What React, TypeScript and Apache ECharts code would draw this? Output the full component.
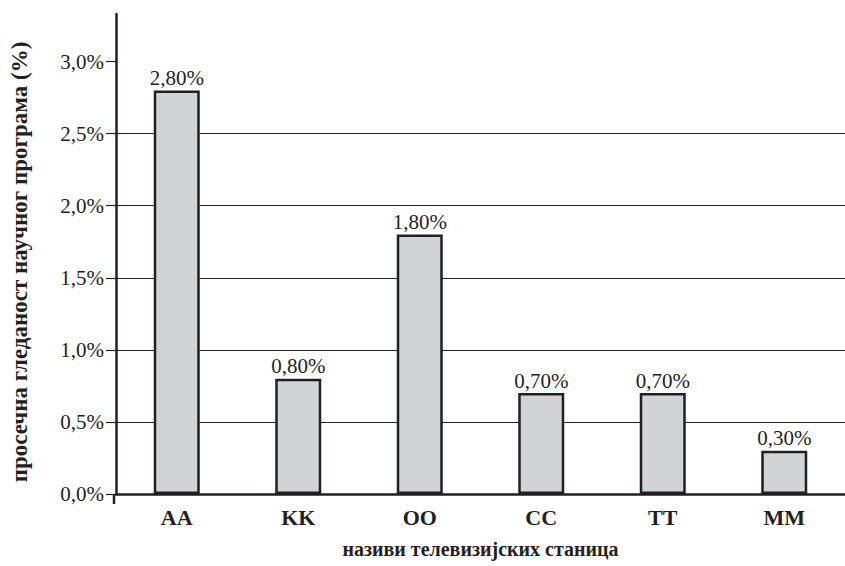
import React, { useEffect, useRef } from "react";
import * as echarts from "echarts";

const categories = ["AA", "KK", "OO", "CC", "TT", "MM"];
const values = [2.8, 0.8, 1.8, 0.7, 0.7, 0.3];
const yTicks = [0, 0.5, 1.0, 1.5, 2.0, 2.5, 3.0];
const yAxisTitle = "просечна гледаност научног програма (%)";
const xAxisTitle = "називи телевизијских станица";

const INK = "#231f20";
const FONT = "Liberation Serif";

export default function App() {
  const ref = useRef<HTMLDivElement>(null);
  useEffect(() => {
    document.body.style.margin = "0";
    if (!ref.current) return;
    const chart = echarts.init(ref.current, undefined, { renderer: "svg" });
    chart.setOption({
      animation: false,
      backgroundColor: "#ffffff",
      grid: { left: 114, top: 14, width: 740, height: 480, containLabel: false },
      xAxis: {
        type: "category",
        data: categories,
        boundaryGap: true,
        name: xAxisTitle,
        nameLocation: "middle",
        nameGap: 45,
        nameTextStyle: { fontFamily: FONT, fontSize: 20, fontWeight: "bold", color: INK },
        axisLine: { show: true, lineStyle: { color: INK, width: 2.5 } },
        axisTick: { show: false },
        axisLabel: { fontFamily: FONT, fontSize: 22, fontWeight: "bold", color: INK, margin: 12 },
        splitLine: { show: false },
        z: 3,
      },
      yAxis: {
        type: "value",
        min: 0,
        max: 3.33,
        interval: 0.5,
        name: yAxisTitle,
        nameLocation: "middle",
        nameGap: 85,
        nameTextStyle: { fontFamily: FONT, fontSize: 23, fontWeight: "bold", color: INK, padding: [0, 16, 0, 0] },
        axisLine: { show: true, lineStyle: { color: INK, width: 2.5 } },
        axisTick: { show: true, inside: false, length: 10, lineStyle: { color: INK, width: 1.2 }, customValues: yTicks },
        axisLabel: {
          fontFamily: FONT,
          fontSize: 21,
          color: INK,
          margin: 12,
          customValues: yTicks,
          formatter: (v: number) => v.toFixed(1).replace(".", ",") + "%",
        },
        splitLine: { show: true, showMaxLine: false, showMinLine: false, lineStyle: { color: INK, width: 1.2 } },
      },
      series: [
        {
          type: "bar",
          data: values,
          barWidth: 46,
          z: 4,
          itemStyle: { color: "#d1d3d4", borderColor: INK, borderWidth: 2.5 },
          label: {
            show: true,
            position: "top",
            distance: 2,
            fontFamily: FONT,
            fontSize: 21,
            color: INK,
            formatter: (p: any) => p.value.toFixed(2).replace(".", ",") + "%",
          },
        },
      ],
      graphic: [
        {
          type: "line",
          shape: { x1: 114, y1: 494, x2: 114, y2: 504 },
          style: { stroke: INK, lineWidth: 2.5 },
        },
      ],
    });
    return () => chart.dispose();
  }, []);
  return <div ref={ref} style={{ width: 845, height: 566 }} />;
}
